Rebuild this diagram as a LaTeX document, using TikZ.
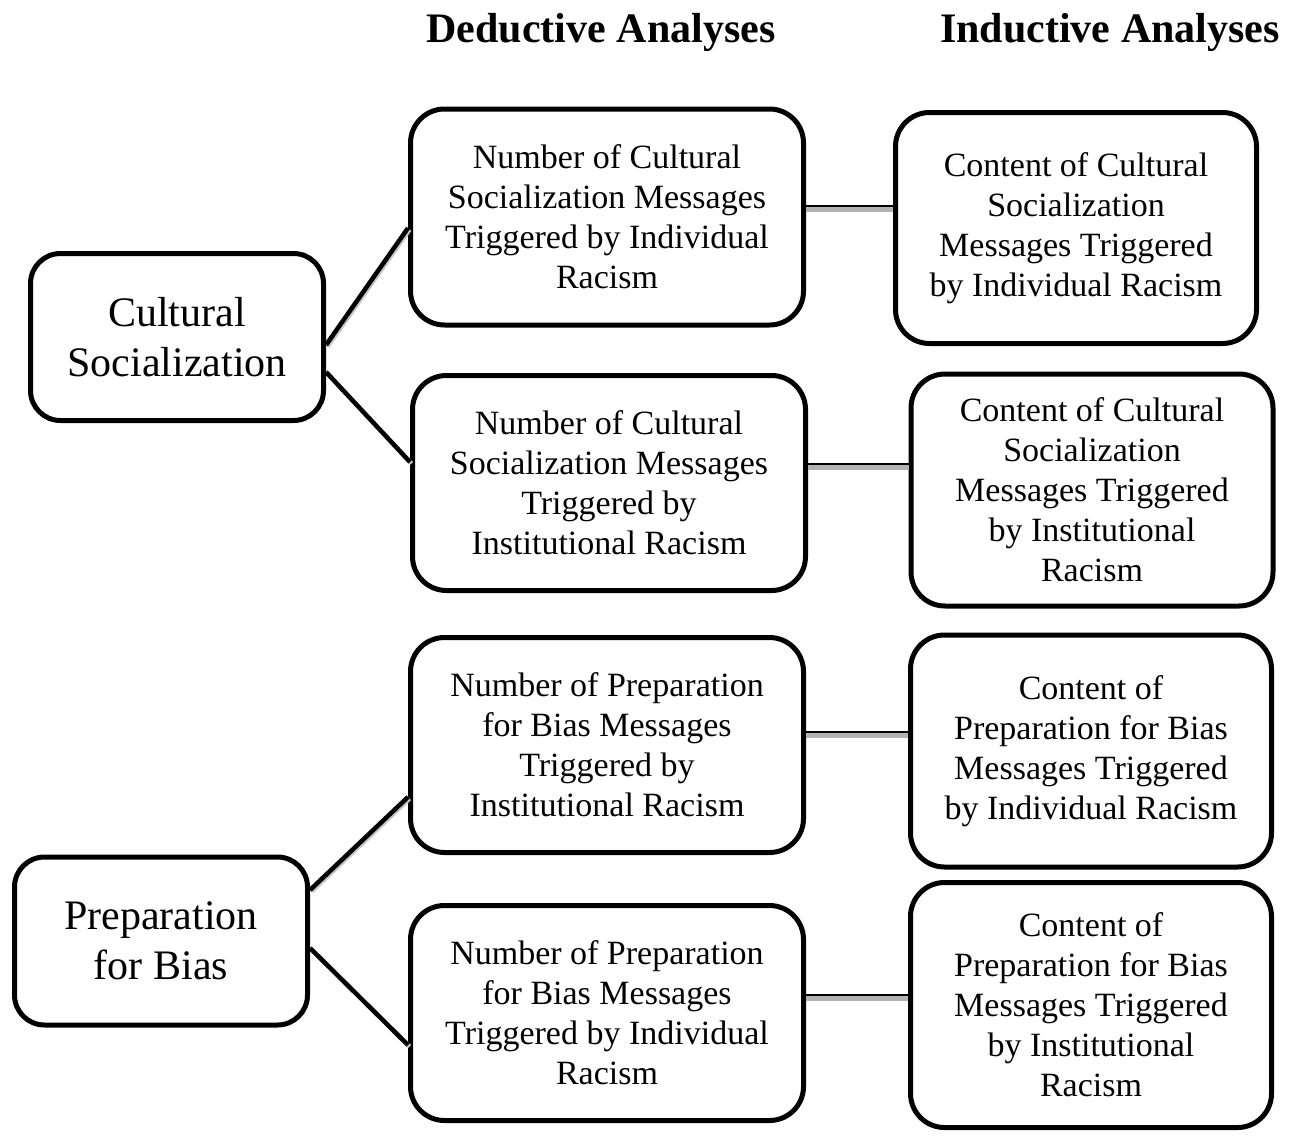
\documentclass[tikz,border=0pt]{standalone}
\usepackage{fontspec}
\setmainfont{Liberation Serif}
\begin{document}
\begin{tikzpicture}[x=1pt,y=-1pt,
  box/.style={draw=black, line width=5pt, rounded corners=34pt, fill=white, align=center, inner sep=0pt},
  small/.style={box, font=\fontsize{34}{40}\selectfont},
  big/.style={box, rounded corners=30pt, font=\fontsize{42}{50}\selectfont},
  head/.style={font=\fontsize{42}{50}\selectfont\bfseries, inner sep=0pt},
  conn/.style={line width=4.5pt, black},
  shade/.style={line width=4.5pt, gray!45},
  hconn/.style={line width=5pt, gray!60},
  htop/.style={line width=2pt, black}]
\useasboundingbox (0,0) rectangle (1289,1135);

\node[head] (hd) at (601,32) {Deductive Analyses};
\node[head] (hi) at (1110,32) {Inductive Analyses};

\node[big, minimum width=293pt, minimum height=167pt] (CS) at (177,337) {Cultural\\Socialization};
\node[big, minimum width=293pt, minimum height=168pt] (PB) at (161,941) {Preparation\\for Bias};

\node[small, minimum width=393pt, minimum height=216pt] (D1) at (607,217) {Number of Cultural\\Socialization Messages\\Triggered by Individual\\Racism};
\node[small, minimum width=393pt, minimum height=215pt] (D2) at (609,483) {Number of Cultural\\Socialization Messages\\Triggered by\\Institutional Racism};
\node[small, minimum width=393pt, minimum height=215pt] (D3) at (607,745) {Number of Preparation\\for Bias Messages\\Triggered by\\Institutional Racism};
\node[small, minimum width=393pt, minimum height=215pt] (D4) at (607,1013) {Number of Preparation\\for Bias Messages\\Triggered by Individual\\Racism};

\node[small, minimum width=361pt, minimum height=231pt] (I1) at (1076,228) {Content of Cultural\\Socialization\\Messages Triggered\\by Individual Racism};
\node[small, minimum width=362pt, minimum height=232pt] (I2) at (1092,490) {Content of Cultural\\Socialization\\Messages Triggered\\by Institutional\\Racism};
\node[small, minimum width=361pt, minimum height=232pt] (I3) at (1091,751) {Content of\\Preparation for Bias\\Messages Triggered\\by Individual Racism};
\node[small, minimum width=361pt, minimum height=245pt] (I4) at (1091,1005) {Content of\\Preparation for Bias\\Messages Triggered\\by Institutional\\Racism};

% shadows of the diagonal connectors
\draw[shade] ([shift={(1.5pt,-9.5pt)}]CS.east) -- ([shift={(1.5pt,-12.5pt)}]D1.west);
\draw[shade] ([shift={(1.5pt,-36.5pt)}]CS.east) -- ([shift={(1.5pt,19.5pt)}]D2.west);
\draw[shade] ([shift={(1.5pt,49.5pt)}]PB.east) -- ([shift={(1.5pt,-53.5pt)}]D3.west);
\draw[shade] ([shift={(1.5pt,-8.5pt)}]PB.east) -- ([shift={(1.5pt,-33.5pt)}]D4.west);

% diagonal connectors
\draw[conn] ([yshift=-8pt]CS.east) -- ([yshift=-11pt]D1.west);
\draw[conn] ([yshift=-35pt]CS.east) -- ([yshift=21pt]D2.west);
\draw[conn] ([yshift=51pt]PB.east) -- ([yshift=-52pt]D3.west);
\draw[conn] ([yshift=-7pt]PB.east) -- ([yshift=-32pt]D4.west);

% horizontal connectors
\draw[hconn] ([yshift=8pt]D1.east) -- ([yshift=8pt]D1.east -| I1.west);
\draw[htop] ([yshift=11pt]D1.east) -- ([yshift=11pt]D1.east -| I1.west);
\draw[hconn] ([yshift=16pt]D2.east) -- ([yshift=16pt]D2.east -| I2.west);
\draw[htop] ([yshift=19pt]D2.east) -- ([yshift=19pt]D2.east -| I2.west);
\draw[hconn] ([yshift=10pt]D3.east) -- ([yshift=10pt]D3.east -| I3.west);
\draw[htop] ([yshift=13pt]D3.east) -- ([yshift=13pt]D3.east -| I3.west);
\draw[hconn] ([yshift=15pt]D4.east) -- ([yshift=15pt]D4.east -| I4.west);
\draw[htop] ([yshift=18pt]D4.east) -- ([yshift=18pt]D4.east -| I4.west);
\end{tikzpicture}
\end{document}
